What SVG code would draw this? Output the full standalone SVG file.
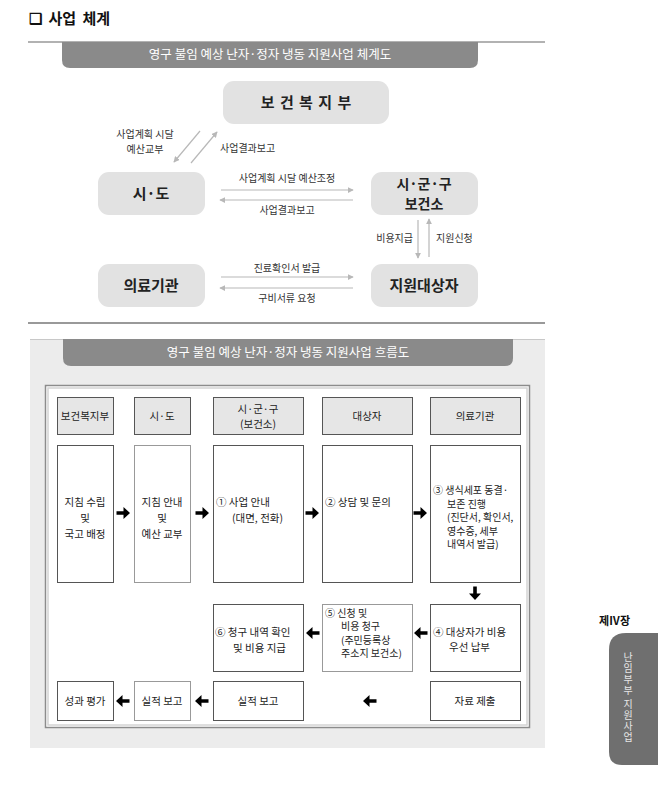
<svg xmlns="http://www.w3.org/2000/svg" width="658" height="785" viewBox="0 0 658 785">
<style>
text{font-family:"Noto Sans CJK KR","Noto Sans",sans-serif;}
.ttl{font-size:15px;font-weight:bold;fill:#111;word-spacing:3px;}
.ban{font-size:12.5px;fill:#fff;text-anchor:middle;}
.nd{fill:#e2e2e2;}
.nt{font-size:15px;font-weight:bold;fill:#222;text-anchor:middle;}
.lb{font-size:10px;fill:#333;}
.c{text-anchor:middle;}
.e{text-anchor:end;}
.ln{stroke:#b8b8b8;stroke-width:1.2;fill:none;marker-end:url(#ah);}
.hd{fill:#e6e6e6;stroke:#555;stroke-width:1;}
.bx{fill:#fff;stroke:#555;stroke-width:1;}
.bxl{fill:#fff;stroke:#999;stroke-width:1;}
.ft{font-size:10.5px;fill:#222;}
.fs{font-size:10px;fill:#222;}
.ar{fill:#000;}
</style>
<defs>
<marker id="ah" viewBox="0 0 8 8" refX="7" refY="4" markerWidth="6" markerHeight="6" markerUnits="userSpaceOnUse" orient="auto">
<path d="M0,0 L8,4 L0,8 Z" fill="#b8b8b8"/>
</marker>
<path id="arR" d="M-6.5,-1.8 H0.5 V-6 L7,0 L0.5,6 V1.8 H-6.5 Z"/>
</defs>
<rect width="658" height="785" fill="#fff"/>

<!-- title -->
<text class="ttl" x="29" y="24">❑ 사업 체계</text>

<!-- section 1 -->
<line x1="28" y1="42" x2="545" y2="42" stroke="#999" stroke-width="1.5"/>
<path d="M62,42 H478 V60 Q478,68 470,68 H70 Q62,68 62,60 Z" fill="#8a8a8a"/>
<text class="ban" x="270" y="59">영구 불임 예상 난자·정자 냉동 지원사업 체계도</text>

<g id="n-mohw"><rect class="nd" x="223" y="81" width="166" height="43" rx="11"/><text class="nt" x="306" y="108" style="word-spacing:2px">보 건 복 지 부</text></g>
<g id="n-sido"><rect class="nd" x="98" y="172" width="107" height="43" rx="11"/><text class="nt" x="151" y="199">시·도</text></g>
<g id="n-sigungu"><rect class="nd" x="371" y="172" width="107" height="43" rx="11"/><text class="nt" x="424" y="189" style="font-size:14px">시·군·구</text><text class="nt" x="424" y="209" style="font-size:14px">보건소</text></g>
<g id="n-hosp"><rect class="nd" x="98" y="264" width="107" height="43" rx="11"/><text class="nt" x="151" y="291">의료기관</text></g>
<g id="n-target"><rect class="nd" x="371" y="264" width="107" height="43" rx="11"/><text class="nt" x="424" y="291">지원대상자</text></g>

<g id="connectors-top">
<line class="ln" x1="200" y1="131" x2="174" y2="162"/>
<line class="ln" x1="191" y1="163" x2="217" y2="132"/>
<line class="ln" x1="221" y1="190" x2="353" y2="190"/>
<line class="ln" x1="353" y1="200" x2="220" y2="200"/>
<line class="ln" x1="418" y1="220" x2="418" y2="258"/>
<line class="ln" x1="429" y1="257" x2="429" y2="219"/>
<line class="ln" x1="221" y1="277" x2="353" y2="277"/>
<line class="ln" x1="353" y1="288" x2="220" y2="288"/>
<text class="lb c" x="145" y="138">사업계획 시달</text>
<text class="lb c" x="145" y="153">예산교부</text>
<text class="lb" x="220" y="152">사업결과보고</text>
<text class="lb c" x="287" y="182">사업계획 시달 예산조정</text>
<text class="lb c" x="287" y="214">사업결과보고</text>
<text class="lb e" x="413" y="242">비용지급</text>
<text class="lb" x="436" y="242">지원신청</text>
<text class="lb c" x="287" y="272">진료확인서 발급</text>
<text class="lb c" x="287" y="302">구비서류 요청</text>
</g>

<line x1="28" y1="323" x2="545" y2="323" stroke="#999" stroke-width="2"/>

<!-- section 2 -->
<rect x="30" y="339" width="515" height="409" fill="#ececec"/>
<line x1="30" y1="339.5" x2="545" y2="339.5" stroke="#c8c8c8" stroke-width="1"/>
<path d="M63,339 H513 V358 Q513,366 505,366 H71 Q63,366 63,358 Z" fill="#8a8a8a"/>
<text class="ban" x="288" y="357">영구 불임 예상 난자·정자 냉동 지원사업 흐름도</text>

<rect x="45.5" y="385.5" width="484" height="342" fill="#fff" stroke="#8c8c8c" stroke-width="1.5"/>
<rect x="48" y="388" width="479" height="337" fill="none" stroke="#d4d4d4" stroke-width="1.5"/>

<g id="h-mohw"><rect class="hd" x="57.5" y="397.5" width="56" height="37"/><text class="ft c" x="85" y="420">보건복지부</text></g>
<g id="h-sido"><rect class="hd" x="134.5" y="397.5" width="56" height="37"/><text class="ft c" x="162" y="420">시·도</text></g>
<g id="h-sigungu"><rect class="hd" x="213.5" y="397.5" width="90" height="37"/><text class="ft c" x="258" y="413">시·군·구</text><text class="ft c" x="258" y="428">(보건소)</text></g>
<g id="h-target"><rect class="hd" x="322.5" y="397.5" width="90" height="37"/><text class="ft c" x="367" y="420">대상자</text></g>
<g id="h-hosp"><rect class="hd" x="430.5" y="397.5" width="90" height="37"/><text class="ft c" x="475" y="420">의료기관</text></g>

<g id="b-guide"><rect class="bx" x="57.5" y="445.5" width="56" height="137"/>
<text class="ft c" x="85" y="506">지침 수립</text><text class="ft c" x="85" y="522">및</text><text class="ft c" x="85" y="538">국고 배정</text></g>
<g id="b-notice"><rect class="bxl" x="134.5" y="445.5" width="56" height="137"/>
<text class="ft c" x="162" y="506">지침 안내</text><text class="ft c" x="162" y="522">및</text><text class="ft c" x="162" y="538">예산 교부</text></g>
<g id="b-step1"><rect class="bx" x="213.5" y="445.5" width="90" height="137"/>
<text class="ft" x="216" y="506">① 사업 안내</text><text class="ft" x="232" y="522">(대면, 전화)</text></g>
<g id="b-step2"><rect class="bx" x="322.5" y="445.5" width="90" height="137"/>
<text class="ft" x="325" y="506">② 상담 및 문의</text></g>
<g id="b-step3"><rect class="bx" x="430.5" y="445.5" width="90" height="137"/>
<text class="fs" x="433" y="494">③ 생식세포 동결·</text><text class="fs" x="447" y="507.5">보존 진행</text><text class="fs" x="447" y="521">(진단서, 확인서,</text><text class="fs" x="447" y="534.5">영수증, 세부</text><text class="fs" x="447" y="548">내역서 발급)</text></g>

<g id="b-step6"><rect class="bx" x="213.5" y="604.5" width="90" height="67"/>
<text class="ft" x="215" y="636">⑥ 청구 내역 확인</text><text class="ft" x="233" y="652">및 비용 지급</text></g>
<g id="b-step5"><rect class="bxl" x="322.5" y="604.5" width="90" height="67"/>
<text class="fs" x="325" y="616.5">⑤ 신청 및</text><text class="fs" x="341" y="630">비용 청구</text><text class="fs" x="341" y="643.5">(주민등록상</text><text class="fs" x="341" y="657">주소지 보건소)</text></g>
<g id="b-step4"><rect class="bx" x="430.5" y="604.5" width="90" height="67"/>
<text class="ft" x="433" y="636">④ 대상자가 비용</text><text class="ft" x="449" y="651">우선 납부</text></g>

<g id="b-eval"><rect class="bx" x="57.5" y="681.5" width="56" height="39"/><text class="ft c" x="85" y="705">성과 평가</text></g>
<g id="b-rep1"><rect class="bxl" x="134.5" y="681.5" width="56" height="39"/><text class="ft c" x="162" y="705">실적 보고</text></g>
<g id="b-rep2"><rect class="bx" x="213.5" y="681.5" width="90" height="39"/><text class="ft c" x="258" y="705">실적 보고</text></g>
<g id="b-data"><rect class="bx" x="430.5" y="681.5" width="90" height="39"/><text class="ft c" x="475" y="705">자료 제출</text></g>

<g id="connectors-flow" class="ar">
<use href="#arR" x="123" y="513"/>
<use href="#arR" x="202" y="513"/>
<use href="#arR" x="312" y="513"/>
<use href="#arR" x="420" y="513"/>
<use href="#arR" transform="translate(475,593) rotate(90)"/>
<use href="#arR" transform="translate(421,633) rotate(180)"/>
<use href="#arR" transform="translate(313,633) rotate(180)"/>
<use href="#arR" transform="translate(123,701) rotate(180)"/>
<use href="#arR" transform="translate(202,701) rotate(180)"/>
<use href="#arR" transform="translate(370,701) rotate(180)"/>
</g>

<!-- side tab -->
<text x="599" y="625" style="font-size:11px;font-weight:bold;fill:#111;">제Ⅳ장</text>
<path d="M658,633 H626 Q609,633 609,650 V752 Q609,765 622,765 H658 Z" fill="#6f6f6f"/>
<text x="628" y="652" style="font-size:10px;fill:#e6e6e6;writing-mode:vertical-rl;letter-spacing:1px;">난임부부 지원사업</text>
</svg>
